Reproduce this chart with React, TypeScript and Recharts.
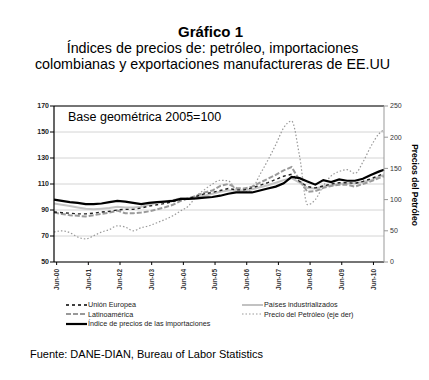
import React from "react";
import {
  LineChart,
  Line,
  XAxis,
  YAxis,
  CartesianGrid,
  ReferenceLine,
} from "recharts";

// periods (year-month), quarterly sampling of the series
const periods = [
  "2000-05", "2000-08", "2000-11", "2001-02", "2001-05", "2001-08", "2001-11",
  "2002-02", "2002-05", "2002-08", "2002-11", "2003-02", "2003-05", "2003-08",
  "2003-11", "2004-02", "2004-05", "2004-08", "2004-11", "2005-02", "2005-05",
  "2005-08", "2005-11", "2006-02", "2006-05", "2006-08", "2006-11", "2007-02",
  "2007-05", "2007-08", "2007-11", "2008-02", "2008-05", "2008-08", "2008-11",
  "2009-02", "2009-05", "2009-08", "2009-11", "2010-02", "2010-05", "2010-08",
  "2010-10",
];

const importaciones = [
  98, 97, 96, 95.5, 94.5, 94.5, 95, 96, 97, 96.5, 95.5, 94.5, 95.5, 96, 96.5,
  97, 98.5, 98.5, 99, 99.5, 100, 101, 102.5, 103.5, 103.5, 103.5, 105, 106.5,
  108, 110.5, 115.5, 114.5, 112, 109.5, 113, 111.5, 113.5, 112.5, 112.5, 114,
  117, 119.5, 121,
];

const unionEuropea = [
  88.5, 88, 87.5, 87, 87, 87.5, 88.5, 89, 90, 90.5, 90.5, 91.5, 93, 94, 95,
  96.5, 98, 99, 100.5, 102.5, 103.5, 105, 106.5, 105.5, 105.5, 107, 109, 111,
  113.5, 116, 117.5, 112, 108, 107, 108.5, 110, 111, 111, 110.5, 112, 114,
  116.5, 118,
];

const latinoamerica = [
  88, 87, 86, 85.5, 85, 86, 87, 88, 89.5, 87.5, 87.5, 88, 89, 90.5, 92, 94, 97,
  99, 101, 103.5, 105, 108.5, 110, 107, 106.5, 108, 111, 114, 117, 120.5, 123,
  113, 104, 104.5, 107, 108.5, 109.5, 109.5, 108, 110, 112, 114.5, 116,
];

const paisesIndustrializados = [
  95, 94, 93, 92, 91, 90.5, 91, 91.5, 92.5, 92, 92, 92.5, 94, 95.5, 96.5, 97.5,
  99, 99, 100, 101, 102.5, 104, 105, 105, 105, 106, 107.5, 109, 111, 113,
  114.5, 111, 107, 106.5, 108, 109, 110, 110.5, 110.5, 111.5, 113, 115.5, 117,
];

const petroleo = [
  48, 50, 47, 40, 37, 42, 48, 52, 58, 56, 50, 55, 58, 63, 68, 74, 82, 90, 106,
  116, 125, 131, 130, 116, 112, 117, 140, 163, 188, 215, 226, 170, 92, 100, 122,
  138, 145, 148, 142, 160, 185, 205, 212,
];

const xTickMonths = [5, 17, 29, 41, 53, 65, 77, 89, 101, 113, 125];
const xTickLabels = [
  "Jun-00", "Jun-01", "Jun-02", "Jun-03", "Jun-04", "Jun-05",
  "Jun-06", "Jun-07", "Jun-08", "Jun-09", "Jun-10",
];
const leftTicks = [50, 70, 90, 110, 130, 150, 170];
const rightTicks = [0, 50, 100, 150, 200, 250];

const toMonth = (p: string) => {
  const [y, m] = p.split("-").map(Number);
  return (y - 2000) * 12 + (m - 1);
};

const data = periods.map((p, i) => ({
  m: toMonth(p),
  imp: importaciones[i],
  ue: unionEuropea[i],
  la: latinoamerica[i],
  pi: paisesIndustrializados[i],
  oil: petroleo[i],
}));

const FONT = "'Liberation Sans', Arial, sans-serif";

const XTick = (props: any) => {
  const { x, y, payload } = props;
  const idx = xTickMonths.indexOf(payload.value);
  return (
    <g transform={`translate(${x},${y + 2})`}>
      <text
        transform="rotate(-90)"
        textAnchor="end"
        dy={2.3}
        fontSize={6.5}
        fontWeight="bold"
        fill="#333"
        fontFamily={FONT}
      >
        {xTickLabels[idx]}
      </text>
    </g>
  );
};

const legendLeft = [
  { label: "Unión Europea", stroke: "#000", dash: "3 3", w: 1.4 },
  { label: "Latinoamérica", stroke: "#999", dash: "5 2", w: 2 },
  { label: "Índice de precios de las importaciones", stroke: "#000", dash: "", w: 2.2 },
];
const legendRight = [
  { label: "Países industrializados", stroke: "#bbb", dash: "", w: 1.8 },
  { label: "Precio del Petróleo (eje der)", stroke: "#999", dash: "1.5 2", w: 1.2 },
];

const LegendItem = ({ item, x, y }: { item: any; x: number; y: number }) => (
  <div
    style={{
      position: "absolute",
      left: x,
      top: y,
      display: "flex",
      alignItems: "center",
      fontFamily: FONT,
      fontSize: 7.2,
      color: "#222",
      whiteSpace: "nowrap",
    }}
  >
    <svg width={21} height={4} style={{ marginRight: 1 }}>
      <line
        x1={0}
        y1={2}
        x2={21}
        y2={2}
        stroke={item.stroke}
        strokeWidth={item.w}
        strokeDasharray={item.dash}
      />
    </svg>
    {item.label}
  </div>
);

export default function App() {
  return (
    <div
      style={{
        position: "absolute",
        left: 0,
        top: 0,
        width: 429,
        height: 380,
        background: "#fff",
        fontFamily: FONT,
      }}
    >
      <div
        style={{
          position: "absolute",
          left: 0,
          top: 23,
          width: 429,
          textAlign: "center",
          fontSize: 15,
          fontWeight: "bold",
          lineHeight: "18px",
          paddingRight: 8,
          boxSizing: "border-box",
        }}
      >
        Gráfico 1
      </div>
      <div
        style={{
          position: "absolute",
          left: 0,
          top: 40,
          width: 429,
          textAlign: "center",
          fontSize: 14.3,
          lineHeight: "16px",
          paddingRight: 4,
          boxSizing: "border-box",
        }}
      >
        Índices de precios de: petróleo, importaciones
        <br />
        colombianas y exportaciones manufactureras de EE.UU
      </div>

      <LineChart
        width={429}
        height={380}
        data={data}
        margin={{ top: 106, right: 0, left: 0, bottom: 88 }}
        style={{ position: "absolute", left: 0, top: 0 }}
      >
        <CartesianGrid
          yAxisId="left"
          vertical={false}
          horizontal
          stroke="#d4d4d4"
          strokeDasharray=""
        />
        <XAxis
          dataKey="m"
          type="number"
          domain={[4, 129]}
          ticks={xTickMonths}
          interval={0}
          tick={<XTick />}
          tickSize={3}
          axisLine={{ stroke: "#000" }}
          tickLine={{ stroke: "#000" }}
          height={30}
        />
        <YAxis
          yAxisId="left"
          domain={[50, 170]}
          ticks={leftTicks}
          interval={0}
          width={54}
          tickSize={4}
          tickMargin={1}
          axisLine={{ stroke: "#000", strokeWidth: 1.2 }}
          tickLine={{ stroke: "#000" }}
          tick={{ fontSize: 7, fontWeight: "bold", fill: "#222", fontFamily: FONT }}
        />
        <YAxis
          yAxisId="right"
          orientation="right"
          domain={[0, 250]}
          ticks={rightTicks}
          interval={0}
          width={45}
          tickSize={4}
          tickMargin={2}
          axisLine={{ stroke: "#999" }}
          tickLine={{ stroke: "#999" }}
          tick={{ fontSize: 7, fill: "#333", fontFamily: FONT }}
        />
        <ReferenceLine yAxisId="left" y={170} stroke="#000" strokeWidth={1.2} />
        <Line
          yAxisId="right"
          type="monotone"
          dataKey="oil"
          stroke="#999"
          strokeWidth={1.2}
          strokeDasharray="1.5 2"
          dot={false}
          isAnimationActive={false}
        />
        <Line
          yAxisId="left"
          type="linear"
          dataKey="pi"
          stroke="#c4c4c4"
          strokeWidth={2}
          dot={false}
          isAnimationActive={false}
        />
        <Line
          yAxisId="left"
          type="linear"
          dataKey="la"
          stroke="#9a9a9a"
          strokeWidth={2}
          strokeDasharray="5 2"
          dot={false}
          isAnimationActive={false}
        />
        <Line
          yAxisId="left"
          type="linear"
          dataKey="ue"
          stroke="#222"
          strokeWidth={1.4}
          strokeDasharray="3 3"
          dot={false}
          isAnimationActive={false}
        />
        <Line
          yAxisId="left"
          type="linear"
          dataKey="imp"
          stroke="#000"
          strokeWidth={2.2}
          dot={false}
          isAnimationActive={false}
        />
      </LineChart>

      <div
        style={{
          position: "absolute",
          left: 68,
          top: 110,
          fontSize: 12.5,
          whiteSpace: "nowrap",
        }}
      >
        Base geométrica 2005=100
      </div>

      <div
        style={{
          position: "absolute",
          left: 415,
          top: 185,
          transform: "translate(-50%, -50%) rotate(90deg)",
          fontSize: 8.5,
          fontWeight: "bold",
          whiteSpace: "nowrap",
        }}
      >
        Precios del Petróleo
      </div>

      {legendLeft.map((it, i) => (
        <LegendItem key={it.label} item={it} x={66} y={300 + i * 9.7} />
      ))}
      {legendRight.map((it, i) => (
        <LegendItem key={it.label} item={it} x={242} y={300 + i * 9.7} />
      ))}

      <div
        style={{
          position: "absolute",
          left: 30,
          top: 348,
          fontSize: 11,
          whiteSpace: "nowrap",
        }}
      >
        Fuente: DANE-DIAN, Bureau of Labor Statistics
      </div>
    </div>
  );
}
